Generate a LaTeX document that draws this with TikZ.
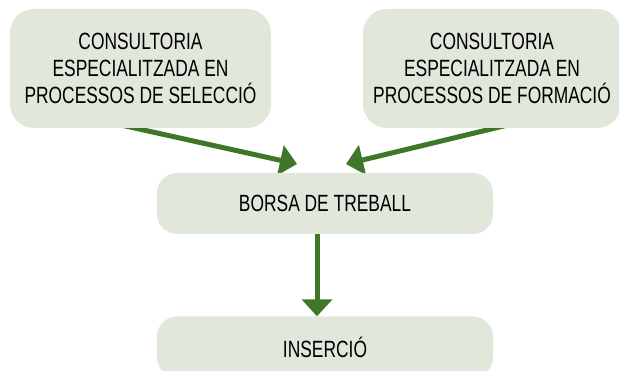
\documentclass[tikz,border=0pt]{standalone}
\usepackage{fontspec}
\setmainfont[FakeStretch=0.74]{Liberation Sans}
\usetikzlibrary{arrows.meta,backgrounds}
\definecolor{boxfill}{RGB}{226,231,220}
\definecolor{arrowgreen}{RGB}{64,118,42}
\begin{document}
\begin{tikzpicture}[x=1pt,y=-1pt,
  box/.style={fill=boxfill,draw=none,rounded corners=24pt,align=center,
    font=\fontsize{23.5}{27}\selectfont,inner sep=0pt},
  conn/.style={draw=arrowgreen,line width=5pt,
    -{Triangle[length=17pt,width=30pt]}}]
\path[use as bounding box] (0,0) rectangle (619,371);
\clip (0,0) rectangle (619,371);
\node[box,minimum width=261pt,minimum height=119pt] (sel) at (140.5,68.5)
  {CONSULTORIA\\ESPECIALITZADA EN\\PROCESSOS DE SELECCIÓ};
\node[box,minimum width=258pt,minimum height=119pt] (form) at (492,68.5)
  {CONSULTORIA\\ESPECIALITZADA EN\\PROCESSOS DE FORMACIÓ};
\node[box,rounded corners=20pt,minimum width=336pt,minimum height=61pt] (borsa) at (325,203.5)
  {BORSA DE TREBALL};
\node[box,rounded corners=20pt,minimum width=336pt,minimum height=61pt] (ins) at (325,347)
  {INSERCIÓ};
% connector start points (hidden under the boxes)
\coordinate (s1) at (112,123);
\coordinate (s2) at (516,123);
\coordinate (t1) at (297,164);
\coordinate (t2) at (346,164);
\coordinate (s3) at (317,232);
\begin{scope}[on background layer]
\draw[conn] (s1) -- (t1);
\draw[conn] (s2) -- (t2);
\draw[conn] (borsa.south -| s3) -- (ins.north -| s3);
\end{scope}
\end{tikzpicture}
\end{document}
